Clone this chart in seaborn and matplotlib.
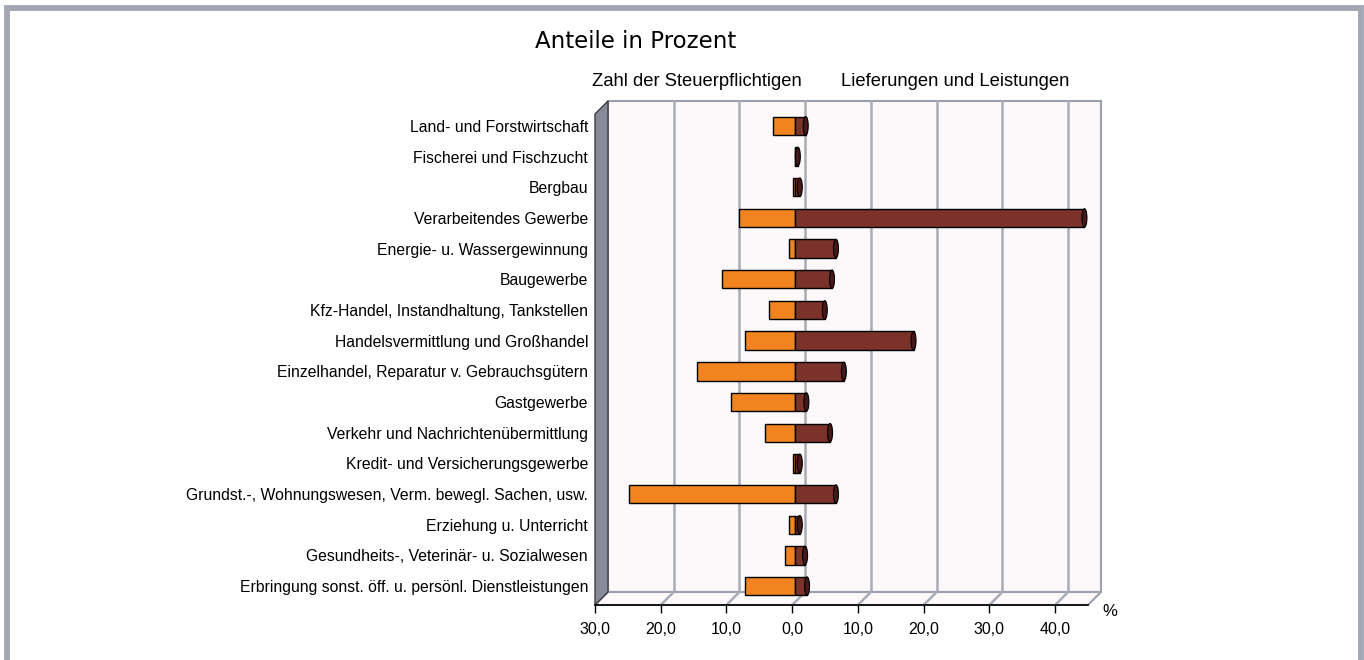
import numpy as np
import pandas as pd
import matplotlib
matplotlib.use("Agg")
import matplotlib.pyplot as plt
import matplotlib.transforms as mtransforms
from matplotlib.patches import Rectangle, Polygon, Ellipse
import seaborn as sns

# Daten (Anteile in Prozent)
branchen = [
    "Land- und Forstwirtschaft",
    "Fischerei und Fischzucht",
    "Bergbau",
    "Verarbeitendes Gewerbe",
    "Energie- u. Wassergewinnung",
    "Baugewerbe",
    "Kfz-Handel, Instandhaltung, Tankstellen",
    "Handelsvermittlung und Großhandel",
    "Einzelhandel, Reparatur v. Gebrauchsgütern",
    "Gastgewerbe",
    "Verkehr und Nachrichtenübermittlung",
    "Kredit- und Versicherungsgewerbe",
    "Grundst.-, Wohnungswesen, Verm. bewegl. Sachen, usw.",
    "Erziehung u. Unterricht",
    "Gesundheits-, Veterinär- u. Sozialwesen",
    "Erbringung sonst. öff. u. persönl. Dienstleistungen",
]
steuerpflichtige = [3.4, 0.1, 0.3, 8.5, 1.0, 11.2, 4.0, 7.6, 15.0, 9.8, 4.6, 0.4, 25.3, 1.0, 1.6, 7.6]
lieferungen = [1.6, 0.4, 0.7, 44.0, 6.2, 5.6, 4.5, 18.0, 7.4, 1.7, 5.3, 0.7, 6.2, 0.7, 1.5, 1.8]
tick_werte = [-30, -20, -10, 0, 10, 20, 30, 40]
tick_texte = ["30,0", "20,0", "10,0", "0,0", "10,0", "20,0", "30,0", "40,0"]

df = pd.DataFrame({
    "Branche": branchen,
    "links": [-v for v in steuerpflichtige],
    "rechts": lieferungen,
})

W, H = 1364, 660
fig = plt.figure(figsize=(W / 100, H / 100), dpi=100)
fig.patch.set_facecolor("white")

# Rahmen
fig.patches.append(Rectangle((6.5 / W, -0.05), (1360.5 - 6.5) / W, (H - 8) / H + 0.05,
                             transform=fig.transFigure, fill=False,
                             edgecolor="#a1a8b4", linewidth=4.2))

# vordere Ebene der 3D-Grafik
x0, x1, ytop, ybot = 595, 1088, 114, 605
ax = fig.add_axes([x0 / W, (H - ybot) / H, (x1 - x0) / W, (ybot - ytop) / H])
ax.set_facecolor("none")

orange = "#f2841f"
braun = "#7b3228"
kappe = "#45191a"

sns.barplot(data=df, y="Branche", x="links", orient="h", color=orange,
            width=0.6, edgecolor="black", linewidth=1.0, saturation=1, ax=ax)
sns.barplot(data=df, y="Branche", x="rechts", orient="h", color=braun,
            width=0.6, edgecolor="black", linewidth=1.0, saturation=1, ax=ax)

xmin, xmax = -30, 45
ax.set_xlim(xmin, xmax)
ax.set_ylim(15.5, -0.5)

# Tiefenversatz der Rückwand in Dateneinheiten
px_x = (x1 - x0) / (xmax - xmin)
px_y = (ybot - ytop) / 16
dxu = 13 / px_x
dyu = 13 / px_y
back_col = "#fdf8f9"
grid_col = "#a7acb9"

ax.add_patch(Rectangle((xmin + dxu, -0.5 - dyu), xmax - xmin, 16, facecolor=back_col,
                       edgecolor="#9aa0ad", linewidth=1.5, zorder=0, clip_on=False))
for v in tick_werte[1:]:
    ax.plot([v + dxu, v + dxu], [-0.5 - dyu, 15.5 - dyu], color=grid_col, lw=1.8,
            zorder=0.5, clip_on=False)
ax.add_patch(Polygon([(xmin, 15.5), (xmax, 15.5), (xmax + dxu, 15.5 - dyu), (xmin + dxu, 15.5 - dyu)],
                     closed=True, facecolor=back_col, edgecolor="#9aa0ad", linewidth=1.5,
                     zorder=0.6, clip_on=False))
for v in tick_werte[1:]:
    ax.plot([v, v + dxu], [15.5, 15.5 - dyu], color=grid_col, lw=1.8, zorder=0.7, clip_on=False)
ax.add_patch(Polygon([(xmin, 15.5), (xmin, -0.5), (xmin + dxu, -0.5 - dyu), (xmin + dxu, 15.5 - dyu)],
                     closed=True, facecolor="#878b98", edgecolor="#3c3c44", linewidth=1.0,
                     zorder=0.8, clip_on=False))

# Balken leicht nach hinten versetzt
shift = mtransforms.ScaledTranslation(3 / 100, 3.5 / 100, fig.dpi_scale_trans)
for p in ax.patches:
    if p.get_zorder() >= 1:
        p.set_transform(ax.transData + shift)
        p.set_clip_on(False)

# Endkappen der braunen Balken
for i, v in enumerate(lieferungen):
    e = Ellipse((v, i), width=5 / px_x, height=0.6, facecolor=kappe, edgecolor="black",
                linewidth=0.8, zorder=3, clip_on=False)
    e.set_transform(ax.transData + shift)
    ax.add_patch(e)

for s in ["top", "right", "left"]:
    ax.spines[s].set_visible(False)
ax.spines["bottom"].set_color("black")
ax.spines["bottom"].set_linewidth(1.2)
ax.spines["bottom"].set_bounds(xmin, xmax)

ax.set_xticks(tick_werte)
ax.set_xticklabels(tick_texte, fontsize=11.5, family="Liberation Sans")
ax.tick_params(axis="x", direction="out", length=6, width=1, pad=6)
ax.set_yticks(range(len(branchen)))
ax.set_yticklabels(branchen, fontsize=11.3, family="Liberation Sans")
ax.tick_params(axis="y", length=0, pad=5)
ax.set_xlabel("")
ax.set_ylabel("")
lab_shift = mtransforms.ScaledTranslation(0, 3.5 / 100, fig.dpi_scale_trans)
for lbl in ax.get_yticklabels():
    lbl.set_transform(lbl.get_transform() + lab_shift)

fig.text(535 / W, 1 - 41 / H, "Anteile in Prozent", fontsize=16.5, family="DejaVu Sans",
         ha="left", va="center")
fig.text(697 / W, 1 - 81 / H, "Zahl der Steuerpflichtigen", fontsize=13.2,
         family="Liberation Sans", ha="center", va="center")
fig.text(955 / W, 1 - 81 / H, "Lieferungen und Leistungen", fontsize=13.2,
         family="Liberation Sans", ha="center", va="center")
fig.text(1110 / W, 1 - 612 / H, "%", fontsize=12, family="Liberation Sans",
         ha="center", va="center")

fig.savefig("out.png", dpi=100)
